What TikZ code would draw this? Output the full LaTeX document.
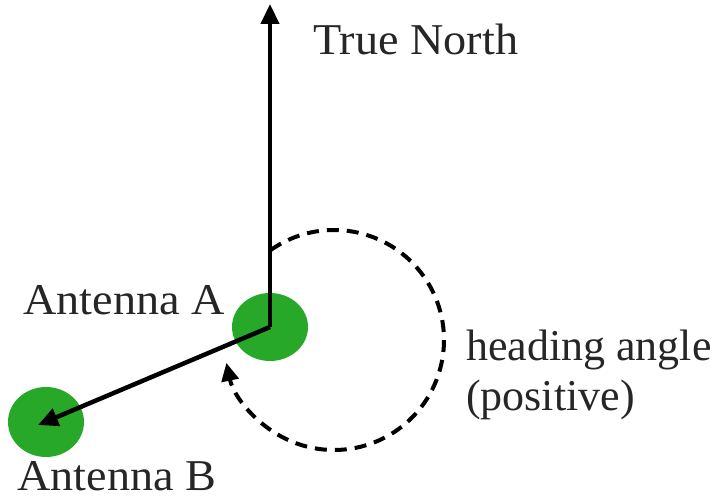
\documentclass[tikz,border=0pt]{standalone}
\usepackage{fontspec}
\setmainfont{Liberation Serif}
\usetikzlibrary{arrows.meta}
\definecolor{antgreen}{RGB}{40,168,40}
\begin{document}
\begin{tikzpicture}[x=1pt,y=1pt,
  lbl/.style={anchor=base west,inner sep=0pt,xscale=1.05,font=\fontsize{44}{50}\selectfont,text=black!85},
  vec/.style={line width=4.5pt,-{Triangle[length=20pt,width=18pt]}},
  turn/.style={line width=4pt,dash pattern=on 12pt off 8pt,-{Triangle[length=18pt,width=17pt]}}]
\useasboundingbox (0,0) rectangle (719,498);
\fill[antgreen] (270,171) ellipse [x radius=38, y radius=34];
\fill[antgreen] (46,76) ellipse [x radius=38, y radius=35];
\coordinate (A) at (270,171);
\coordinate (B) at (38,73);
\coordinate (N) at (270,494);
\coordinate (C) at (334,158);
\draw[vec] (A) -- (N);
\draw[vec] (A) -- (B);
\draw[turn] ([shift={(125:110)}]C) arc[start angle=125,end angle=-168,radius=110];
\node[lbl] (tn) at (313,443) {True North};
\node[lbl] (la) at (23,183) {Antenna A};
\node[lbl] (lb) at (17,8) {Antenna B};
\node[lbl,xscale=0.952] (lh) at (466,138) {heading angle};
\node[lbl,xscale=0.952] (lp) at (466,88) {(positive)};
\end{tikzpicture}
\end{document}
